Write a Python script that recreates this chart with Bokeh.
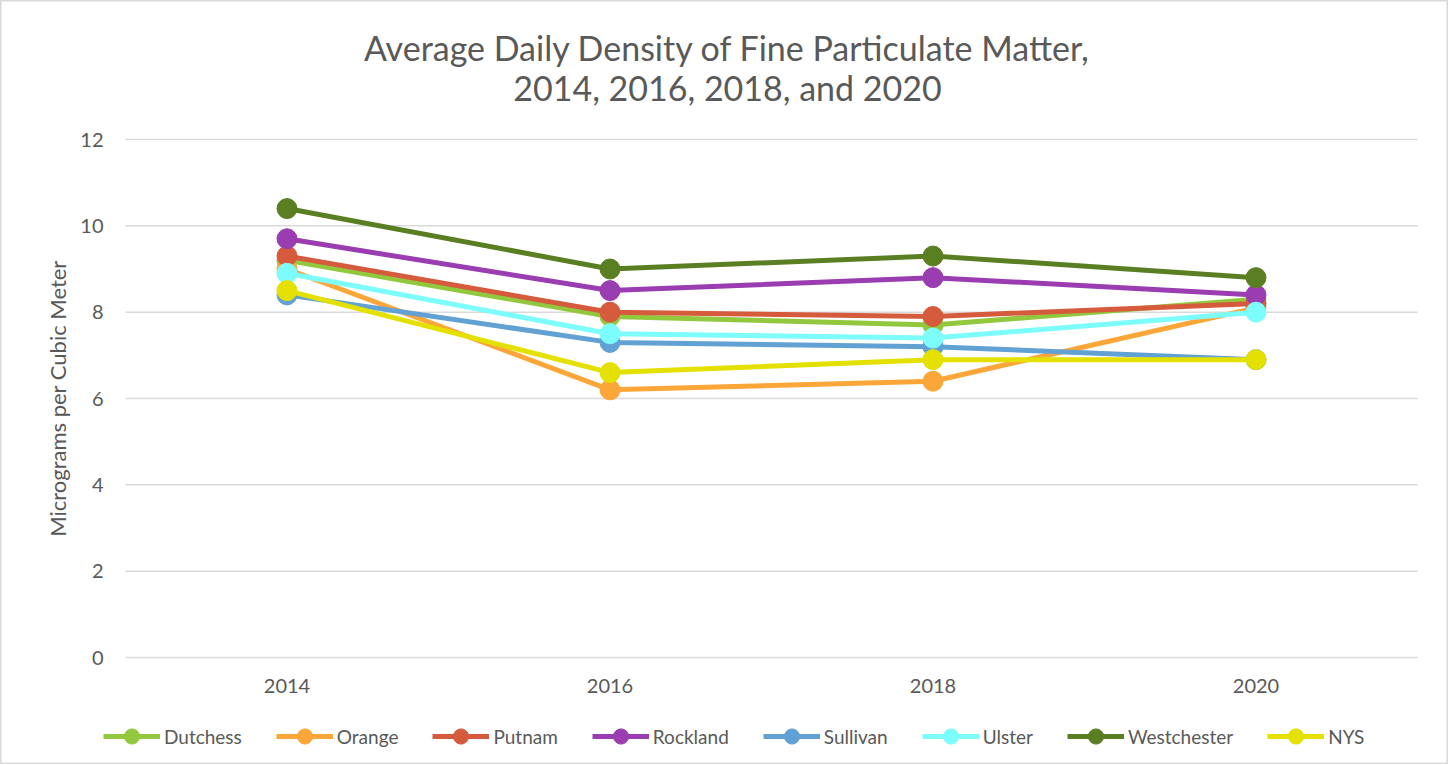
import math
from bokeh.plotting import figure
from bokeh.models import Legend, LegendItem, Range1d
from bokeh.core.properties import value
from bokeh.embed import file_html
from bokeh.resources import INLINE

years = [2014, 2016, 2018, 2020]
series_names = ["Dutchess", "Orange", "Putnam", "Rockland", "Sullivan", "Ulster", "Westchester", "NYS"]
dutchess = [9.2, 7.9, 7.7, 8.3]
orange = [9.0, 6.2, 6.4, 8.1]
putnam = [9.3, 8.0, 7.9, 8.2]
rockland = [9.7, 8.5, 8.8, 8.4]
sullivan = [8.4, 7.3, 7.2, 6.9]
ulster = [8.9, 7.5, 7.4, 8.0]
westchester = [10.4, 9.0, 9.3, 8.8]
nys = [8.5, 6.6, 6.9, 6.9]
y_ticks = [0, 2, 4, 6, 8, 10, 12]
title_lines = ["Average Daily Density of Fine Particulate Matter,", "2014, 2016, 2018, and 2020"]
y_axis_title = "Micrograms per Cubic Meter"
colors = ["#92C83E", "#FBA638", "#D65A3C", "#9A3DB0", "#62A1D3", "#7DFCFC", "#5A7F23", "#E4E100"]
values = [dutchess, orange, putnam, rockland, sullivan, ulster, westchester, nys]

FONT = value("Lato")
GRAY = "#595959"

# canvas geometry (pixels)
W, H = 1448, 764
PLOT_LEFT, PLOT_W = 125, 1292
PLOT_TOP, PLOT_H = 139, 518
X_MIN, X_MAX = 2013, 2021
Y_MIN, Y_MAX = 0, 12
px_x = PLOT_W / (X_MAX - X_MIN)
px_y = PLOT_H / (Y_MAX - Y_MIN)
x_range = Range1d(X_MIN - PLOT_LEFT / px_x, X_MAX + (W - PLOT_LEFT - PLOT_W) / px_x)
y_range = Range1d(Y_MIN - (H - PLOT_TOP - PLOT_H) / px_y, Y_MAX + PLOT_TOP / px_y)

p = figure(width=W, height=H, output_backend="svg", toolbar_location=None,
           x_axis_location=None, y_axis_location=None, title_location=None,
           x_range=x_range, y_range=y_range, min_border=0)
p.outline_line_color = "#D9D9D9"
p.outline_line_width = 2
p.background_fill_color = "white"
p.border_fill_color = "white"
p.grid.visible = False

# horizontal gridlines
p.segment(x0=[X_MIN] * len(y_ticks), x1=[X_MAX] * len(y_ticks), y0=y_ticks, y1=y_ticks,
          line_color="#D9D9D9", line_width=1.5)

# y tick labels
p.text(x=[X_MIN] * len(y_ticks), y=y_ticks, text=[str(t) for t in y_ticks],
       x_offset=-22, text_align="right", text_baseline="middle",
       text_font=FONT, text_font_size="20px", text_color=GRAY)
# x tick labels
p.text(x=years, y=[Y_MIN] * len(years), text=[str(y) for y in years],
       y_offset=28, text_align="center", text_baseline="middle",
       text_font=FONT, text_font_size="20px", text_color=GRAY)
# y axis title
p.text(x=[X_MIN], y=[(Y_MIN + Y_MAX) / 2], text=[y_axis_title], angle=math.pi / 2,
       x_offset=-68, text_align="center", text_baseline="middle",
       text_font=FONT, text_font_size="22px", text_color=GRAY)
# chart title
title_x = (X_MIN + X_MAX) / 2
p.text(x=[title_x], y=[Y_MAX], text=[title_lines[0]], x_offset=-44, y_offset=-92,
       text_align="center", text_baseline="middle",
       text_font=FONT, text_font_size="34px", text_color=GRAY)
p.text(x=[title_x], y=[Y_MAX], text=[title_lines[1]], x_offset=-44, y_offset=-52,
       text_align="center", text_baseline="middle",
       text_font=FONT, text_font_size="34px", text_color=GRAY)

items = []
for name, vals, c in zip(series_names, values, colors):
    l = p.line(years, vals, line_color=c, line_width=5)
    s = p.scatter(years, vals, marker="circle", size=20, fill_color=c, line_color=c)
    items.append(LegendItem(label=name, renderers=[l, s]))

legend = Legend(items=items, orientation="horizontal", location=(103, 9),
                label_text_font="Lato", label_text_font_size="19px", label_text_color=GRAY,
                glyph_width=57, glyph_height=38, label_standoff=4, spacing=34,
                padding=0, margin=0, border_line_color=None, background_fill_alpha=0)
p.add_layout(legend, "center")

open("out.html", "w").write(file_html(p, INLINE))
